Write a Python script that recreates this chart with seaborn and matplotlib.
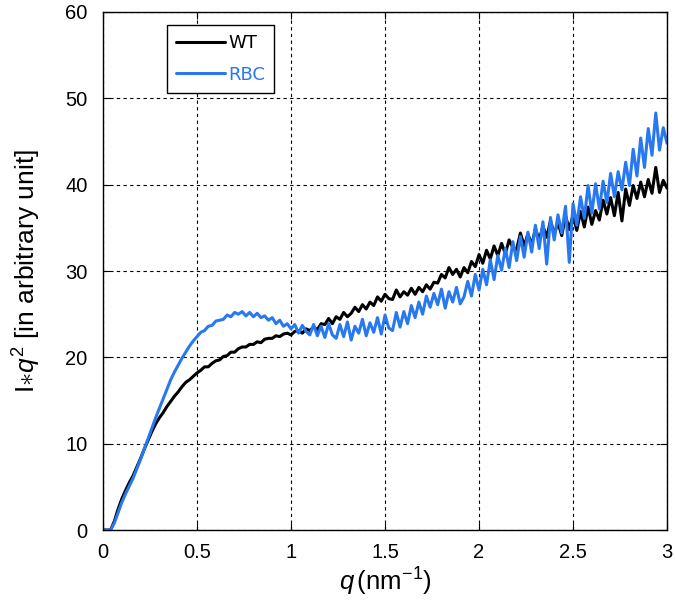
import numpy as np
import pandas as pd
import matplotlib
matplotlib.use("Agg")
import matplotlib.pyplot as plt
import seaborn as sns

# q grid (nm^-1), step 0.02
q = np.round(np.arange(0, 3.0001, 0.02), 2)

# WT
wt = [0, 0, 0,
      1.0, 2.4, 3.6, 4.6, 5.5, 6.3, 7.3, 8.3, 9.4, 10.4, 11.4, 12.3, 13.0, 13.6,
      14.3, 14.9, 15.5, 16.0, 16.6, 17.1, 17.4, 17.8, 18.2, 18.5, 18.9, 18.9,
      19.3, 19.6, 19.7, 20.1, 20.2, 20.6, 20.6, 21.0, 21.2, 21.2, 21.5, 21.5,
      21.8, 21.7, 22.1, 22.2, 22.2, 22.5, 22.4, 22.7, 22.8, 22.6, 23.0, 23.1,
      22.8, 23.3, 23.1, 23.5, 23.2, 23.9, 23.8, 24.5, 23.9, 24.7, 24.4, 25.2,
      24.7, 25.1, 25.8, 25.3, 26.1, 25.6, 26.4, 26.0, 27.0, 26.5, 27.3, 26.8,
      26.7, 27.8, 27.0, 27.6, 27.2, 28.0, 27.3, 28.1, 27.6, 28.4, 27.9, 28.7,
      28.6, 29.6, 29.2, 30.4, 29.6, 30.2, 29.3, 30.4, 29.8, 31.1, 30.5, 31.9,
      30.9, 32.4, 31.4, 32.9, 31.8, 33.2, 32.0, 33.6, 32.7, 32.5, 34.4, 32.9,
      34.3, 33.0, 34.9, 33.6, 35.2, 33.9, 35.8, 34.3, 35.6, 34.1, 36.4, 34.8,
      36.5, 34.7, 36.9, 35.1, 37.4, 35.4, 37.0, 35.9, 38.2, 36.6, 38.5, 36.4,
      39.1, 35.8, 39.5, 37.6, 39.9, 38.4, 40.3, 38.6, 40.6, 39.0, 42.0, 39.1,
      40.5, 39.6]

# RBC
rbc = [0, 0, 0,
       0.8, 2.0, 3.2, 4.2, 5.1, 6.0, 7.1, 8.2, 9.4, 10.6, 11.8, 13.0, 14.1, 15.2,
       16.3, 17.4, 18.3, 19.1, 19.9, 20.6, 21.3, 21.9, 22.4, 22.9, 23.1, 23.6,
       23.7, 24.2, 24.3, 24.4, 24.9, 24.7, 25.2, 25.0, 25.3, 24.8, 25.2, 24.7,
       25.1, 24.6, 24.8, 24.3, 24.6, 23.9, 24.3, 23.6, 23.9, 23.3, 23.8, 22.8,
       23.7, 23.0, 22.6, 23.8, 22.5, 23.6, 22.3, 23.9, 22.6, 22.2, 23.8, 22.4,
       24.1, 22.0, 23.6, 22.8, 24.4, 22.5, 24.0, 22.9, 24.6, 22.7, 24.9, 23.4,
       23.1, 25.2, 23.5, 25.3, 23.9, 26.0, 24.6, 26.4, 25.0, 27.1, 25.8, 27.4,
       26.1, 27.9, 25.7, 27.6, 26.4, 28.1, 26.2, 27.0, 28.8, 27.1, 29.6, 27.8,
       30.2, 28.4, 31.3, 29.0, 31.8, 30.1, 32.6, 30.4, 33.4, 31.2, 34.0, 31.6,
       34.5, 32.2, 35.3, 32.6, 35.7, 30.8, 36.2, 33.6, 36.5, 34.4, 37.5, 31.0,
       37.8, 35.3, 38.6, 36.1, 39.9, 36.7, 40.1, 37.2, 40.4, 37.9, 41.3, 38.6,
       41.5, 39.4, 42.6, 39.9, 44.1, 41.0, 45.4, 42.0, 46.5, 43.4, 48.3, 44.0,
       46.6, 44.8]

x_ticks = [0, 0.5, 1, 1.5, 2, 2.5, 3]
y_ticks = [0, 10, 20, 30, 40, 50, 60]

blue = "#2878F0"

sns.set_style("ticks")
plt.rcParams["font.family"] = ["Liberation Sans", "DejaVu Sans"]
plt.rcParams["mathtext.fontset"] = "custom"
plt.rcParams["mathtext.rm"] = "Liberation Sans"
plt.rcParams["mathtext.it"] = "Liberation Sans:italic"
for key in ["text.color", "axes.labelcolor", "xtick.color", "ytick.color"]:
    plt.rcParams[key] = "black"

fig = plt.figure(figsize=(6.75, 6.09), dpi=100)
ax = fig.add_axes([0.1526, 0.1297, 0.8356, 0.8506])

sns.lineplot(x=q, y=wt, color="black", lw=2.2, label="WT", ax=ax,
             estimator=None, sort=False)
sns.lineplot(x=q, y=rbc, color=blue, lw=2.2, label="RBC", ax=ax,
             estimator=None, sort=False)

ax.set_xlim(0, 3)
ax.set_ylim(0, 60)
ax.set_xticks(x_ticks)
ax.set_yticks(y_ticks)
ax.set_xticklabels([f"{v:g}" for v in x_ticks])
ax.set_yticklabels([f"{v:g}" for v in y_ticks])
ax.tick_params(direction="in", length=5, width=0.8, labelsize=14.5,
               top=True, right=True, colors="black")
ax.tick_params(axis="x", pad=9)
ax.tick_params(axis="y", pad=11)
ax.grid(True, color="black", linestyle=(0, (3, 3)), linewidth=0.8)
for s in ax.spines.values():
    s.set_linewidth(1.0)
    s.set_color("black")

ax.set_xlabel(r"$q\,$(nm$^{-1}$)", fontsize=18.5, labelpad=3, color="black")
ax.set_ylabel(r"I$\ast q^2$ [in arbitrary unit]", fontsize=19, labelpad=16,
              color="black")

leg = ax.legend(loc="upper left", bbox_to_anchor=(0.113, 0.975),
                borderaxespad=0, frameon=True, fancybox=False,
                edgecolor="black", framealpha=1, handlelength=2.7,
                labelspacing=0.75, borderpad=0.5, handletextpad=0.2,
                prop={"family": ["Liberation Sans Narrow", "DejaVu Sans"],
                      "size": 13})
leg.get_frame().set_linewidth(1.0)
leg.get_texts()[0].set_color("black")
leg.get_texts()[1].set_color(blue)

fig.savefig("out.png", dpi=100)
